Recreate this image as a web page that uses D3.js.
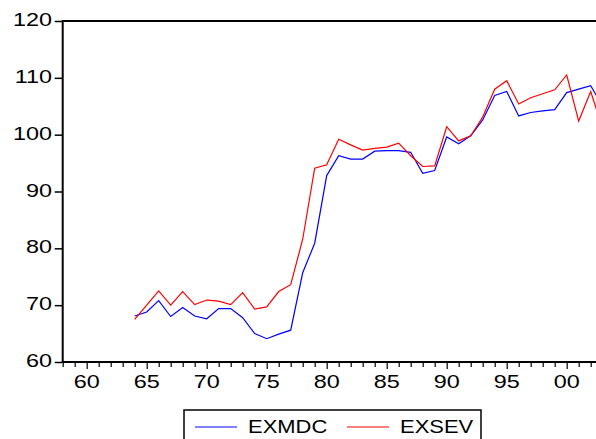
<!DOCTYPE html>
<html>
<head>
<meta charset="utf-8">
<script src="https://cdn.jsdelivr.net/npm/d3@7"></script>
<style>
  body { margin: 0; background: #fff; }
  svg { display: block; font-family: "Liberation Sans", Arial, sans-serif; }
</style>
</head>
<body>
<svg id="chart" width="596" height="439"></svg>
<script>
// yearly values, 1964 .. 2003 (last point runs past the right edge)
const years = d3.range(1964, 2004);
const exmdc = [68.1, 68.8, 70.8, 68.0, 69.6, 68.1, 67.6, 69.4, 69.4, 67.8,
  65.0, 64.1, 64.9, 65.6, 75.7, 80.9, 92.8, 96.3, 95.7, 95.7,
  97.1, 97.2, 97.2, 96.9, 93.2, 93.7, 99.6, 98.4, 99.8, 102.6,
  106.9, 107.6, 103.3, 103.9, 104.2, 104.4, 107.4, 108.0, 108.6, 105.0];
const exsev = [67.5, 70.0, 72.5, 70.0, 72.4, 70.1, 70.9, 70.7, 70.1, 72.2,
  69.3, 69.7, 72.4, 73.6, 81.6, 94.1, 94.7, 99.2, 98.2, 97.3,
  97.6, 97.8, 98.5, 96.3, 94.4, 94.5, 101.4, 98.9, 99.8, 103.1,
  108.0, 109.5, 105.4, 106.5, 107.2, 107.9, 110.5, 102.4, 107.6, 101.0];
const seriesNames = ["EXMDC", "EXSEV"];
const seriesColors = ["#0000ff", "#ff0000"];
const yTicks = [60, 70, 80, 90, 100, 110, 120];
const xLabelYears = [1960, 1965, 1970, 1975, 1980, 1985, 1990, 1995, 2000];

const svg = d3.select("#chart");
const plotLeft = 62.7, plotTop = 21, plotBottom = 362;

let x = d3.scaleLinear().domain([1958, 2003]).range([plotLeft, plotLeft + 45 * 12]);
let y = d3.scaleLinear().domain([60, 120]).range([plotBottom, plotTop]);

// the original font is drawn wide, so stretch text horizontally
function wideText(g, tx, ty, str, anchor, sx) {
  return g.append("text")
    .attr("transform", "translate(" + tx + "," + ty + ") scale(" + sx + ",1)")
    .attr("text-anchor", anchor)
    .attr("font-size", 18)
    .attr("fill", "#000")
    .text(str);
}

// data lines first, axes drawn over them
let line = d3.line().x((d) => x(d[0])).y((d) => y(d[1]));
[exmdc, exsev].forEach((vals, i) => {
  svg.append("path")
    .datum(years.map((yr, j) => [yr, vals[j]]))
    .attr("fill", "none")
    .attr("stroke", seriesColors[i])
    .attr("stroke-width", 1.2)
    .attr("d", line);
});

// y axis
let yAxis = svg.append("g")
  .attr("transform", "translate(" + plotLeft + ",0)")
  .call(d3.axisLeft(y).tickValues(yTicks).tickSize(8).tickFormat(""));
yAxis.select(".domain").attr("stroke-width", 2).attr("d", "M0," + (plotBottom + 1) + "V" + (plotTop - 1));
yAxis.selectAll("line").attr("stroke-width", 1.5);
yTicks.forEach((v) => wideText(svg, 52, y(v) + 5, v, "end", 1.3));

// top frame line
svg.append("line")
  .attr("x1", plotLeft).attr("x2", 596)
  .attr("y1", plotTop).attr("y2", plotTop)
  .attr("stroke", "#000").attr("stroke-width", 2);

// x axis: minor tick every year, labels every five
let xAxis = svg.append("g")
  .attr("transform", "translate(0," + plotBottom + ")")
  .call(d3.axisBottom(x).tickValues(d3.range(1958, 2003)).tickSize(5).tickFormat(""));
xAxis.select(".domain").attr("stroke-width", 2).attr("d", "M" + (plotLeft - 1) + ",0H596");
xAxis.selectAll(".tick line").attr("stroke-width", 1.2)
  .attr("y2", (d) => d % 5 === 0 ? 7 : 5);
xLabelYears.forEach((yr) =>
  wideText(svg, x(yr), 388, String(yr % 100).padStart(2, "0"), "middle", 1.3));

// legend
let legend = svg.append("g");
legend.append("rect")
  .attr("x", 184).attr("y", 410)
  .attr("width", 297).attr("height", 40)
  .attr("fill", "none").attr("stroke", "#000").attr("stroke-width", 1.5);
let legendX = [195, 347];
seriesNames.forEach((name, i) => {
  legend.append("line")
    .attr("x1", legendX[i]).attr("x2", legendX[i] + 42)
    .attr("y1", 427).attr("y2", 427)
    .attr("stroke", seriesColors[i]).attr("stroke-width", 1.2);
  wideText(legend, legendX[i] + 53, 432.5, name, "start", 1.22);
});
</script>
</body>
</html>
